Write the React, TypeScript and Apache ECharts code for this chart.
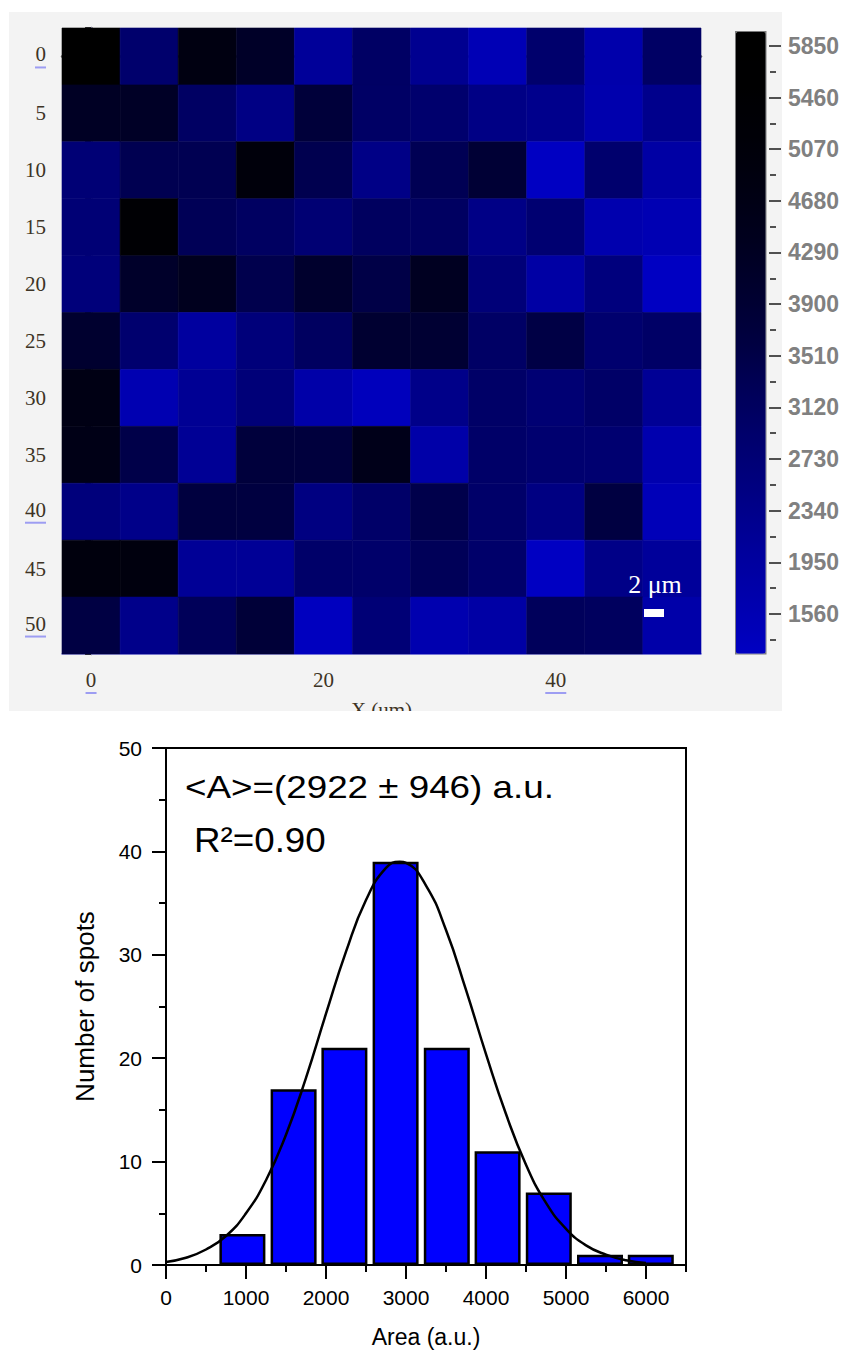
import React, { useEffect, useRef } from 'react';
import * as echarts from 'echarts';

// ---------- heat map (11 x 11 spots) ----------
const xCenters = [0, 5, 10, 15, 20, 25, 30, 35, 40, 45, 50];
const yCenters = [0, 5, 10, 15, 20, 25, 30, 35, 40, 45, 50];
// rows: y = 0 (top) ... 50 (bottom); columns: x = 0 ... 50
const heatRows = [
  [5870, 2910, 4780, 4150, 2080, 3050, 2250, 1510, 2900, 1720, 3040],
  [4250, 4200, 3070, 2450, 3750, 3030, 2890, 2440, 2320, 1670, 2310],
  [2740, 3370, 3340, 5010, 3400, 2430, 3310, 3860, 1080, 2880, 1870],
  [2730, 5390, 3290, 3090, 2780, 3130, 3100, 2420, 2810, 1660, 1560],
  [2650, 4100, 4400, 3430, 4040, 3520, 4330, 2690, 1860, 2590, 1230],
  [3990, 2870, 1960, 2640, 3120, 3950, 3910, 3020, 3550, 2860, 3010],
  [4700, 1600, 2170, 2680, 1780, 1390, 2370, 3000, 2770, 2990, 2160],
  [4640, 3490, 2150, 3720, 3690, 4560, 1770, 2980, 2840, 2830, 1650],
  [2630, 2360, 3660, 3640, 2510, 2970, 3460, 2960, 2500, 3610, 1460],
  [4950, 4890, 2140, 2130, 2950, 2940, 3260, 2930, 1150, 2410, 2070],
  [3580, 2350, 3240, 3790, 1330, 2720, 1640, 1850, 3210, 3150, 1760],
];
const heatXMajor = [0, 20, 40];
const heatXMinor = [10, 30, 50];
const heatYMajor = [0, 5, 10, 15, 20, 25, 30, 35, 40, 45, 50];
const heatYMinor = [-2.5, 2.5, 7.5, 12.5, 17.5, 22.5, 27.5, 32.5, 37.5, 42.5, 47.5, 52.5];
const underlined = [0, 40, 50];

// ---------- colour bar ----------
const cbMin = 1265;
const cbMax = 5963;
const cbLabels = [1560, 1950, 2340, 2730, 3120, 3510, 3900, 4290, 4680, 5070, 5460, 5850];
const cbMinor = [1365, 1755, 2145, 2535, 2925, 3315, 3705, 4095, 4485, 4875, 5265, 5655];
const cbColors = ['#0000c2', '#0000ae', '#00009b', '#000085', '#000070', '#00005a', '#000041',
  '#00002e', '#00001e', '#000011', '#000007', '#000001', '#000000'];

// ---------- histogram ----------
const binCenters = [955, 1595, 2230, 2870, 3510, 4145, 4785, 5425, 6060];
const binCounts = [3, 17, 21, 39, 21, 11, 7, 1, 1];
const fitX = [0, 250, 500, 750, 1000, 1250, 1500, 1750, 2000, 2250, 2500, 2750, 2922, 3000,
  3250, 3500, 3750, 4000, 4250, 4500, 4750, 5000, 5250, 5500, 5750, 6000];
const fitY = [0.3, 0.7, 1.5, 2.8, 5.0, 8.2, 12.6, 18.1, 24.3, 30.3, 35.3, 38.4, 39.0, 38.9,
  36.7, 32.4, 26.6, 20.4, 14.6, 9.7, 6.0, 3.5, 1.9, 1.0, 0.45, 0.2];
const histXMajor = [0, 1000, 2000, 3000, 4000, 5000, 6000];
const histXMinor = [500, 1500, 2500, 3500, 4500, 5500, 6500];

const serif = '"Liberation Serif", "DejaVu Serif", serif';
const sans = '"Liberation Sans", Arial, sans-serif';
const heatLabelColor = '#3d3325';
const plain = (v: number) => String(v);

function buildOption() {
  const xStep = xCenters[1] - xCenters[0];
  const yStep = yCenters[1] - yCenters[0];
  const xMin = xCenters[0] - xStep / 2;
  const xMax = xCenters[xCenters.length - 1] + xStep / 2;
  const yMin = yCenters[0] - yStep / 2;
  const yMax = yCenters[yCenters.length - 1] + yStep / 2;

  const heatData: number[][] = [];
  heatRows.forEach((row, r) => {
    row.forEach((v, c) => heatData.push([xCenters[c], yCenters[r], v]));
  });

  const richLabel = {
    t: { fontFamily: serif, fontSize: 21, color: heatLabelColor, lineHeight: 22 },
    u1: { width: 11, height: 2, backgroundColor: '#9d9df2', lineHeight: 4 },
    u2: { width: 21, height: 2, backgroundColor: '#9d9df2', lineHeight: 4 },
  };
  const heatFmt = (v: number) =>
    underlined.indexOf(v) >= 0 ? `{t|${v}}\n{u${String(v).length}|}` : `{t|${v}}`;

  const noSplit = { splitLine: { show: false } };
  const hidden = { axisLabel: { show: false }, axisTick: { show: false } };

  const xAxis: any[] = [
    // 0 heat: major ticks + labels
    {
      ...noSplit, gridIndex: 0, type: 'value', min: xMin, max: xMax, position: 'bottom', offset: 4,
      axisLine: { show: false },
      axisTick: { customValues: heatXMajor, length: 10, lineStyle: { color: '#333', width: 2 } },
      axisLabel: { customValues: heatXMajor, formatter: heatFmt, rich: richLabel, margin: 11 },
      name: 'X (um)', nameLocation: 'middle', nameGap: 36,
      nameTextStyle: { fontFamily: serif, fontSize: 21, color: heatLabelColor },
    },
    // 1 heat: minor ticks
    {
      ...noSplit, gridIndex: 0, type: 'value', min: xMin, max: xMax, position: 'bottom', offset: 4,
      axisLine: { show: false }, axisLabel: { show: false },
      axisTick: { customValues: heatXMinor, length: 4, lineStyle: { color: '#333', width: 2 } },
    },
    // 2 heat: top frame
    {
      ...noSplit, ...hidden, gridIndex: 0, type: 'value', min: xMin, max: xMax, position: 'top',
      axisLine: { lineStyle: { color: '#6a6a6a', width: 2.5 } },
    },
    // 3 heat: bottom frame
    {
      ...noSplit, ...hidden, gridIndex: 0, type: 'value', min: xMin, max: xMax, position: 'bottom',
      axisLine: { lineStyle: { color: '#a9a9e6', width: 2 } },
    },
    // 4 colour bar dummy
    { ...noSplit, gridIndex: 1, type: 'value', show: false, min: 0, max: 1 },
    // 5 histogram major
    {
      ...noSplit, gridIndex: 2, type: 'value', min: 0, max: 6500, position: 'bottom',
      axisLine: { lineStyle: { color: '#000', width: 2 } },
      axisTick: { customValues: histXMajor, length: 14, lineStyle: { color: '#000', width: 2 } },
      axisLabel: { customValues: histXMajor, formatter: plain, fontFamily: sans, fontSize: 21, color: '#000', margin: 22 },
      name: 'Area (a.u.)', nameLocation: 'middle', nameGap: 60,
      nameTextStyle: { fontFamily: sans, fontSize: 23, color: '#000' },
    },
    // 6 histogram minor
    {
      ...noSplit, gridIndex: 2, type: 'value', min: 0, max: 6500, position: 'bottom',
      axisLine: { show: false }, axisLabel: { show: false },
      axisTick: { customValues: histXMinor, length: 7, lineStyle: { color: '#000', width: 2 } },
    },
  ];

  const yAxis: any[] = [
    // 0 heat labels / major ticks
    {
      ...noSplit, gridIndex: 0, type: 'value', min: yMin, max: yMax, inverse: true, position: 'left',
      axisLine: { lineStyle: { color: '#6a6a6a', width: 2.5 } },
      axisTick: { customValues: heatYMajor, length: 11, lineStyle: { color: '#333', width: 2 } },
      axisLabel: { customValues: heatYMajor, formatter: heatFmt, rich: richLabel, margin: 16 },
    },
    // 1 heat minor ticks
    {
      ...noSplit, gridIndex: 0, type: 'value', min: yMin, max: yMax, inverse: true, position: 'left',
      axisLine: { show: false }, axisLabel: { show: false },
      axisTick: { customValues: heatYMinor, length: 6, lineStyle: { color: '#333', width: 2 } },
    },
    // 2 heat right frame
    {
      ...noSplit, ...hidden, gridIndex: 0, type: 'value', min: yMin, max: yMax, inverse: true, position: 'right',
      axisLine: { lineStyle: { color: '#a9a9e6', width: 2 } },
    },
    // 3 colour bar labels
    {
      ...noSplit, gridIndex: 1, type: 'value', min: cbMin, max: cbMax, position: 'right',
      axisLine: { show: false },
      axisTick: { customValues: cbLabels, length: 12, lineStyle: { color: '#505050', width: 2 } },
      axisLabel: {
        customValues: cbLabels, formatter: plain, margin: 18, fontFamily: sans, fontSize: 23,
        fontWeight: 'bold', color: '#808080',
      },
    },
    // 4 colour bar minor ticks
    {
      ...noSplit, gridIndex: 1, type: 'value', min: cbMin, max: cbMax, position: 'right',
      axisLine: { show: false }, axisLabel: { show: false },
      axisTick: { customValues: cbMinor, length: 6, lineStyle: { color: '#505050', width: 2 } },
    },
    // 5 histogram
    {
      ...noSplit, gridIndex: 2, type: 'value', min: 0, max: 50, interval: 10, position: 'left',
      axisLine: { lineStyle: { color: '#000', width: 2 } },
      axisTick: { length: 14, lineStyle: { color: '#000', width: 2 } },
      minorTick: { show: true, splitNumber: 2, length: 7, lineStyle: { color: '#000', width: 2 } },
      minorSplitLine: { show: false },
      axisLabel: { formatter: plain, fontFamily: sans, fontSize: 21, color: '#000', margin: 24 },
      name: 'Number of spots', nameLocation: 'middle', nameGap: 68,
      nameTextStyle: { fontFamily: sans, fontSize: 26, color: '#000' },
    },
  ];

  return {
    animation: false,
    backgroundColor: '#ffffff',
    grid: [
      { left: 62, top: 28, width: 639, height: 626 },
      { left: 769, top: 31, width: 1, height: 622 },
      { left: 166, top: 748, width: 520, height: 517, show: true, borderColor: '#000', borderWidth: 2, backgroundColor: 'transparent' },
    ],
    xAxis,
    yAxis,
    visualMap: {
      type: 'continuous',
      seriesIndex: 0,
      dimension: 2,
      min: cbMin,
      max: cbMax,
      left: 735,
      top: 31,
      itemWidth: 30,
      itemHeight: 622,
      padding: 0,
      calculable: false,
      hoverLink: false,
      borderColor: '#7c7c7c',
      borderWidth: 1.5,
      inRange: { color: cbColors },
    },
    series: [
      {
        type: 'custom',
        coordinateSystem: 'cartesian2d',
        xAxisIndex: 0,
        yAxisIndex: 0,
        silent: true,
        data: heatData,
        encode: { x: 0, y: 1 },
        renderItem: (params: any, api: any) => {
          const x = api.value(0);
          const y = api.value(1);
          const a = api.coord([x - xStep / 2, y - yStep / 2]);
          const b = api.coord([x + xStep / 2, y + yStep / 2]);
          const col = api.visual('color');
          return {
            type: 'rect',
            shape: {
              x: Math.min(a[0], b[0]), y: Math.min(a[1], b[1]),
              width: Math.abs(b[0] - a[0]), height: Math.abs(b[1] - a[1]),
            },
            style: { fill: col, stroke: col, lineWidth: 0.6 },
          };
        },
      },
      {
        type: 'bar',
        xAxisIndex: 5,
        yAxisIndex: 5,
        data: binCenters.map((c, i) => [c, binCounts[i]]),
        barWidth: 46,
        itemStyle: { color: '#0000ff', borderColor: '#000', borderWidth: 2.5 },
        silent: true,
      },
      {
        type: 'line',
        xAxisIndex: 5,
        yAxisIndex: 5,
        data: fitX.map((x, i) => [x, fitY[i]]),
        smooth: true,
        showSymbol: false,
        lineStyle: { color: '#000', width: 2.5 },
        silent: true,
        z: 5,
      },
    ],
    graphic: {
      elements: [
        { type: 'rect', z: -10, shape: { x: 9, y: 12, width: 773, height: 699 }, style: { fill: '#f3f3f3' }, silent: true },
        { type: 'rect', z: 100, shape: { x: 0, y: 711, width: 845, height: 30 }, style: { fill: '#ffffff' }, silent: true },
        {
          type: 'text', z: 50, x: 655, y: 584,
          style: { text: '2 μm', fill: '#ffffff', fontFamily: serif, fontSize: 26, align: 'center', verticalAlign: 'middle' },
        },
        { type: 'rect', z: 50, shape: { x: 644, y: 609, width: 20, height: 8 }, style: { fill: '#ffffff' } },
        {
          type: 'text', z: 50, x: 185, y: 787, scaleX: 1.15,
          style: { text: '<A>=(2922 ± 946) a.u.', fill: '#000', fontFamily: sans, fontSize: 32, align: 'left', verticalAlign: 'middle' },
        },
        {
          type: 'text', z: 50, x: 194, y: 840, scaleX: 1.05,
          style: { text: 'R²=0.90', fill: '#000', fontFamily: sans, fontSize: 35, align: 'left', verticalAlign: 'middle' },
        },
      ],
    },
  };
}

export default function App() {
  const ref = useRef<HTMLDivElement>(null);
  useEffect(() => {
    document.body.style.margin = '0';
    const chart = echarts.init(ref.current as HTMLDivElement, null, { renderer: 'svg' });
    chart.setOption(buildOption() as any);
    return () => chart.dispose();
  }, []);
  return <div ref={ref} style={{ width: 845, height: 1353 }} />;
}
